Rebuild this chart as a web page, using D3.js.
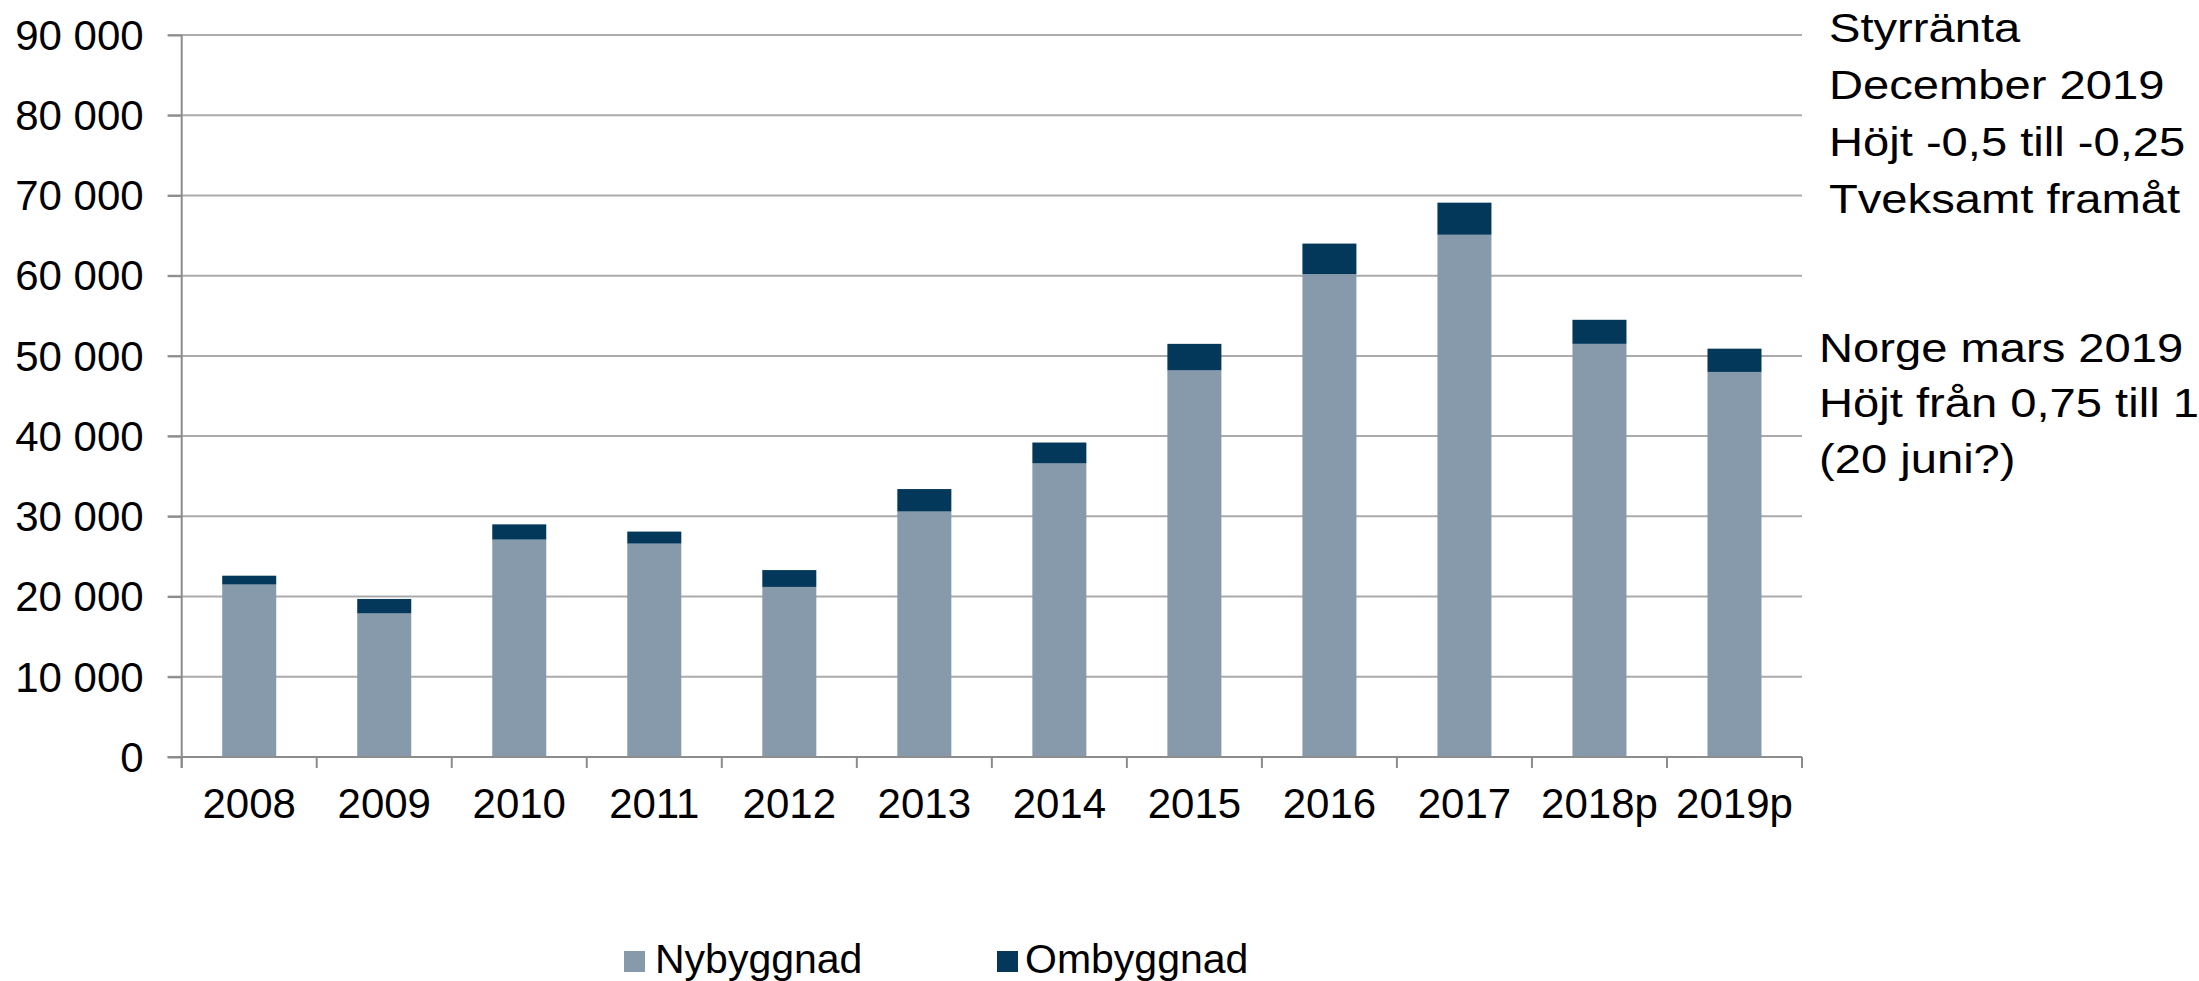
<!DOCTYPE html>
<html>
<head>
<meta charset="utf-8">
<script src="https://cdn.jsdelivr.net/npm/d3@7"></script>
<style>
  body { margin: 0; background: #fff; }
  text { font-family: "Liberation Sans", Arial, sans-serif; fill: #000; }
</style>
</head>
<body>
<div id="chart"></div>
<script>
// data
const years = ['2008', '2009', '2010', '2011', '2012', '2013', '2014', '2015', '2016', '2017', '2018p', '2019p'];
const nybyggnad = [21500, 17900, 27100, 26600, 21200, 30600, 36600, 48200, 60200, 65100, 51500, 48000];
const ombyggnad = [1100, 1800, 1900, 1500, 2100, 2800, 2600, 3300, 3800, 4000, 3000, 2900];
const seriesNames = ['Nybyggnad', 'Ombyggnad'];
const yTicks = [0, 10000, 20000, 30000, 40000, 50000, 60000, 70000, 80000, 90000];
const noteSweden = ['Styrränta', 'December 2019', 'Höjt -0,5 till -0,25', 'Tveksamt framåt'];
const noteNorway = ['Norge mars 2019', 'Höjt från 0,75 till 1', '(20 juni?)'];

const W = 2199, H = 981;
const colors = ['#879aab', '#03385a'];
const plotLeft = 181.7, plotRight = 1802, plotTop = 35, plotBottom = 757;

const svg = d3.select('#chart').append('svg')
    .attr('width', W)
    .attr('height', H);

const x = d3.scaleBand().domain(years).range([plotLeft, plotRight]).paddingInner(0.6).paddingOuter(0.3);
const y = d3.scaleLinear().domain([0, 90000]).range([plotBottom, plotTop]);

const locale = d3.formatLocale({ decimal: ',', thousands: ' ', grouping: [3], currency: ['', ' kr'] });
const fmt = locale.format(',d');

// gridlines
svg.append('g')
    .selectAll('line')
    .data(yTicks)
    .enter().append('line')
    .attr('x1', plotLeft - 14)
    .attr('x2', plotRight)
    .attr('y1', d => y(d))
    .attr('y2', d => y(d))
    .attr('stroke', '#ababab')
    .attr('stroke-width', 2);

// stacked bars
const table = years.map((d, i) => ({ year: d, Nybyggnad: nybyggnad[i], Ombyggnad: ombyggnad[i] }));
const stacked = d3.stack().keys(seriesNames)(table);

svg.append('g')
    .selectAll('g')
    .data(stacked)
    .enter().append('g')
    .attr('fill', (d, i) => colors[i])
    .selectAll('rect')
    .data(d => d)
    .enter().append('rect')
    .attr('x', d => x(d.data.year))
    .attr('width', x.bandwidth())
    .attr('y', d => y(d[1]))
    .attr('height', d => y(d[0]) - y(d[1]));

// y axis
const yAxis = svg.append('g')
    .attr('transform', 'translate(' + plotLeft + ',0)')
    .call(d3.axisLeft(y).tickValues(yTicks).tickFormat(fmt).tickSize(14).tickSizeOuter(0).tickPadding(24));
yAxis.select('.domain').remove();
yAxis.selectAll('.tick line').attr('stroke', '#8c8c8c').attr('stroke-width', 2);
yAxis.selectAll('.tick text').style('font-size', '42px').attr('dy', '0.34em');

// x axis labels, ticks at band edges
const xAxis = svg.append('g')
    .attr('transform', 'translate(0,' + plotBottom + ')')
    .call(d3.axisBottom(x).tickSize(0).tickPadding(31));
xAxis.select('.domain').remove();
xAxis.selectAll('.tick text').style('font-size', '42px');

const gap = (x.step() - x.bandwidth()) / 2;
const edges = years.map(d => x(d) - gap).concat([x(years[years.length - 1]) + x.bandwidth() + gap]);
svg.append('g')
    .selectAll('line')
    .data(edges)
    .enter().append('line')
    .attr('x1', d => d).attr('x2', d => d)
    .attr('y1', plotBottom).attr('y2', plotBottom + 11)
    .attr('stroke', '#8c8c8c')
    .attr('stroke-width', 2);

svg.append('line')
    .attr('x1', plotLeft).attr('x2', plotLeft)
    .attr('y1', plotTop).attr('y2', plotBottom + 11)
    .attr('stroke', '#8c8c8c').attr('stroke-width', 2);
svg.append('line')
    .attr('x1', plotLeft - 14).attr('x2', plotRight)
    .attr('y1', plotBottom).attr('y2', plotBottom)
    .attr('stroke', '#8c8c8c').attr('stroke-width', 2);

// legend
const legendX = [624, 997];
const legend = svg.append('g')
    .selectAll('g')
    .data(seriesNames)
    .enter().append('g')
    .attr('transform', (d, i) => 'translate(' + legendX[i] + ',951)');
legend.append('rect')
    .attr('width', 21).attr('height', 21)
    .attr('fill', (d, i) => colors[i]);
legend.append('text')
    .attr('x', (d, i) => i === 0 ? 31 : 28)
    .attr('y', 22)
    .style('font-size', '41px')
    .text(d => d);

// side notes
function note(lines, nx, ny, step) {
    const g = svg.append('g').attr('transform', 'translate(' + nx + ',' + ny + ') scale(1.15,1)');
    g.selectAll('text')
        .data(lines)
        .enter().append('text')
        .attr('x', 0)
        .attr('y', (d, i) => i * step)
        .style('font-size', '41px')
        .text(d => d);
}
note(noteSweden, 1829, 42, 57);
note(noteNorway, 1819, 362, 55.5);
</script>
</body>
</html>
